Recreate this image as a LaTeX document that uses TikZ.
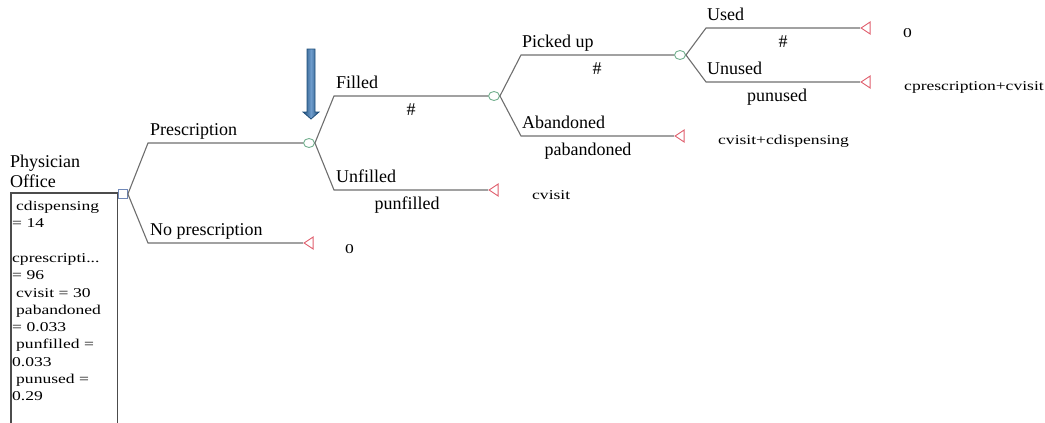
\documentclass[tikz,border=0pt]{standalone}
\usepackage{fontspec}
\setmainfont{Liberation Serif}
\newfontfamily\payfont[FakeStretch=1.3]{Liberation Serif}
\usetikzlibrary{shapes.geometric}

\definecolor{branchgray}{HTML}{6E6E6E}
\definecolor{chancegreen}{HTML}{6FAE8C}
\definecolor{termred}{HTML}{E0606E}
\definecolor{decblue}{HTML}{7088B8}
\definecolor{arrowdark}{HTML}{1F4E7A}
\definecolor{arrowlight}{HTML}{6E9CCC}

\tikzset{
  branch/.style={draw=branchgray, line width=1.1pt},
  decision/.style={rectangle, draw=decblue, fill=white, line width=0.8pt, minimum size=9pt, inner sep=0pt},
  chance/.style={ellipse, draw=chancegreen, fill=white, line width=0.9pt, minimum width=11pt, minimum height=9pt, inner sep=0pt},
  terminal/.style={isosceles triangle, shape border rotate=180, isosceles triangle stretches, draw=termred, line width=0.9pt, minimum width=12pt, minimum height=9pt, inner sep=0pt, anchor=apex},
  lbl/.style={font=\fontsize{18}{20}\selectfont, anchor=base west, inner sep=0pt},
  prob/.style={font=\fontsize{18}{20}\selectfont, anchor=base, inner sep=0pt},
  payoff/.style={font=\payfont\fontsize{13.5}{15}\selectfont, anchor=west, inner sep=0pt},
}

\begin{document}
\begin{tikzpicture}[x=1pt, y=-1pt]
        \clip (0,0) rectangle (1045,423);

        %%%%%%%%%% Nodi %%%%%%%%%%
        \node[decision] (D)  at (123,194) {};
        \node[chance]   (C1) at (309,143) {};
        \node[chance]   (C2) at (494,96)  {};
        \node[chance]   (C3) at (680,55)  {};

        \node[terminal] (Tnop)  at (303,243) {};
        \node[terminal] (Tunf)  at (488,190) {};
        \node[terminal] (Taban) at (674,136) {};
        \node[terminal] (Tused) at (860,28)  {};
        \node[terminal] (Tunus) at (860,82)  {};

        %%%%%%%%%% Angoli %%%%%%%%%%
        \coordinate (Dup)  at (148,143);
        \coordinate (Ddn)  at (148,243);
        \coordinate (C1up) at (334,96);
        \coordinate (C1dn) at (334,190);
        \coordinate (C2up) at (521,55);
        \coordinate (C2dn) at (521,136);
        \coordinate (C3up) at (706,28);
        \coordinate (C3dn) at (706,82);

        %%%%%%%%% Archi %%%%%%%%%%
        \draw[branch] (D.east) -- (Dup) -- (C1.west);
        \draw[branch] (D.east) -- (Ddn) -- (Tnop.apex);
        \draw[branch] (C1.east) -- (C1up) -- (C2.west);
        \draw[branch] (C1.east) -- (C1dn) -- (Tunf.apex);
        \draw[branch] (C2.east) -- (C2up) -- (C3.west);
        \draw[branch] (C2.east) -- (C2dn) -- (Taban.apex);
        \draw[branch] (C3.east) -- (C3up) -- (Tused.apex);
        \draw[branch] (C3.east) -- (C3dn) -- (Tunus.apex);

        %%%%%%%%% Etichette %%%%%%%%%%
        \node[lbl] (Lpre)  at (150,135) {Prescription};
        \node[lbl] (Lnop)  at (150,235) {No prescription};
        \node[lbl] (Lfil)  at (336,88)  {Filled};
        \node[lbl] (Lunf)  at (336,182) {Unfilled};
        \node[lbl] (Lpick) at (522,47)  {Picked up};
        \node[lbl] (Laban) at (522,128) {Abandoned};
        \node[lbl] (Lused) at (707,20)  {Used};
        \node[lbl] (Lunus) at (707,74)  {Unused};

        \node[prob] (Pfil)  at (411,115) {\#};
        \node[prob] (Punf)  at (407,209) {punfilled};
        \node[prob] (Ppick) at (597,74)  {\#};
        \node[prob] (Paban) at (588,155) {pabandoned};
        \node[prob] (Pused) at (783,47)  {\#};
        \node[prob] (Punus) at (777,101) {punused};

        \node[payoff] (Vnop)  at (345,249) {0};
        \node[payoff] (Vunf)  at (532,195) {cvisit};
        \node[payoff] (Vaban) at (718,141) {cvisit+cdispensing};
        \node[payoff] (Vused) at (903,33)  {0};
        \node[payoff] (Vunus) at (904,87)  {cprescription+cvisit};

        %%%%%%%%% Radice %%%%%%%%%%
        \node[font=\fontsize{18}{20}\selectfont, anchor=north west, inner sep=0pt, align=left] (root) at (10,155) {Physician\\Office};
        \node[anchor=north west, inner xsep=1pt, inner ysep=8pt, text width=104pt, align=left,
              font=\payfont\fontsize{13.5}{17.3}\selectfont] (vars) at (11,193)
              {\hspace{4pt}cdispensing\\= 14\\[17.3pt]cprescripti...\\= 96\\\hspace{4pt}cvisit = 30\\\hspace{4pt}pabandoned\\= 0.033\\\hspace{4pt}punfilled =\\0.033\\\hspace{4pt}punused =\\0.29};
        \draw[black!70, line width=1.3pt] (vars.north west |- 0,430) -- (vars.north west) -- (vars.north east) -- (vars.north east |- 0,430);

        %%%%%%%%% Freccia %%%%%%%%%%
        \shade[left color=arrowdark, right color=arrowdark, middle color=arrowlight]
              (307,49) -- (315,49) -- (315,112) -- (319,112) -- (311,119) -- (303,112) -- (307,112) -- cycle;
        \draw[arrowdark, line width=0.8pt]
              (307,49) -- (315,49) -- (315,112) -- (319,112) -- (311,119) -- (303,112) -- (307,112) -- cycle;
    \end{tikzpicture}
\end{document}
